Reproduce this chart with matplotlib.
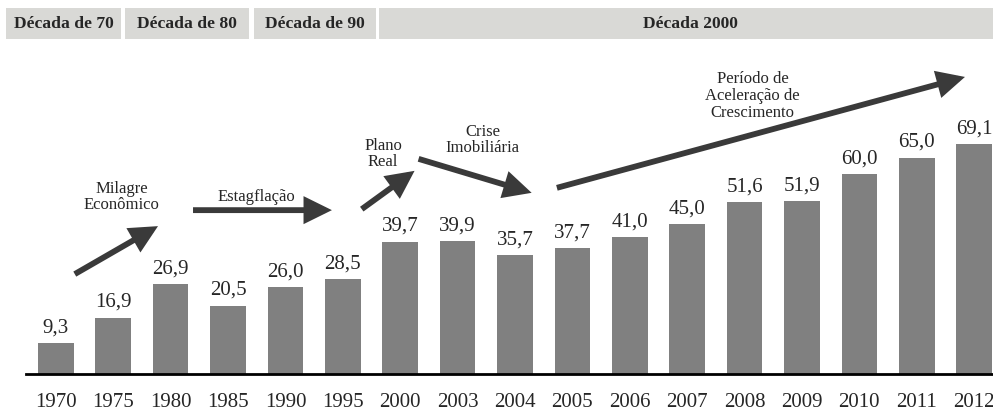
import matplotlib
matplotlib.use("Agg")
import matplotlib.pyplot as plt
from matplotlib.patches import Rectangle, FancyArrowPatch, ArrowStyle

SERIF = ['Liberation Serif', 'DejaVu Serif']
plt.rcParams['font.family'] = SERIF

# ---- data ----
years = ['1970', '1975', '1980', '1985', '1990', '1995', '2000', '2003', '2004',
         '2005', '2006', '2007', '2008', '2009', '2010', '2011', '2012']
values = [9.3, 16.9, 26.9, 20.5, 26.0, 28.5, 39.7, 39.9, 35.7,
          37.7, 41.0, 45.0, 51.6, 51.9, 60.0, 65.0, 69.1]
value_labels = ['9,3', '16,9', '26,9', '20,5', '26,0', '28,5', '39,7', '39,9', '35,7',
                '37,7', '41,0', '45,0', '51,6', '51,9', '60,0', '65,0', '69,1']
decades = ['Década de 70', 'Década de 80', 'Década de 90', 'Década 2000']
phases = ['Milagre\nEconômico', 'Estagflação', 'Plano\nReal',
          'Crise\nImobiliária', 'Período de\nAceleração de\nCrescimento']

# ---- layout ----
W, H = 993, 414
fig = plt.figure(figsize=(W / 100, H / 100), dpi=100)
ax_left, ax_right = 26, 1004
ax_bottom, ax_top = 375, 0
ax = fig.add_axes([ax_left / W, (H - ax_bottom) / H,
                   (ax_right - ax_left) / W, (ax_bottom - ax_top) / H])
ax.set_xlim(-0.52, 16.52)
ax.set_ylim(0, 112.6)

x = list(range(len(years)))
ax.bar(x, values, width=0.62, color='#808080', zorder=2)
for xi, v, lab in zip(x, values, value_labels):
    ax.annotate(lab, (xi, v), xytext=(0, 8.5), textcoords='offset points',
                ha='center', va='baseline', fontsize=15, color='#262626',
                family=SERIF)

ax.set_xticks(x)
ax.set_xticklabels(years, fontsize=15, color='#262626', family=SERIF)
ax.tick_params(axis='x', length=0, pad=13)
ax.set_yticks([])
for s in ['left', 'right', 'top']:
    ax.spines[s].set_visible(False)
ax.spines['bottom'].set_linewidth(2)
ax.spines['bottom'].set_color('black')

# ---- phase arrows & labels ----
arrow_specs = [((0.33, 30.0), (1.78, 44.4)),
               ((2.39, 49.2), (4.81, 49.2)),
               ((5.33, 49.5), (6.25, 61.0)),
               ((6.32, 64.6), (8.29, 54.4)),
               ((8.73, 55.9), (15.84, 89.2))]
text_pos = [(1.15, 53.5), (3.50, 53.5), (5.70, 66.4), (7.44, 70.6), (12.14, 83.8)]
style = ArrowStyle('-|>', head_length=0.85, head_width=0.42)
for (p0, p1) in arrow_specs:
    arr = FancyArrowPatch(p0, p1, arrowstyle=style, mutation_scale=16,
                          lw=4.2, color='#3a3a3a', shrinkA=0, shrinkB=0,
                          joinstyle='miter', capstyle='butt', zorder=3)
    ax.add_patch(arr)
for txt, (tx, ty) in zip(phases, text_pos):
    ax.text(tx, ty, txt, ha='center', va='center', fontsize=12,
            color='#262626', linespacing=1.05, family=SERIF)

# ---- decade header boxes ----
boxes = [(6, 121), (125, 249), (254, 376), (379, 993)]
for (x0, x1), lab in zip(boxes, decades):
    fig.add_artist(Rectangle((x0 / W, (H - 40) / H), (x1 - x0) / W, 31 / H,
                             transform=fig.transFigure, facecolor='#d9d9d6',
                             edgecolor='none'))
    cx = (x0 + x1) / 2 if x1 < 900 else 690
    fig.text(cx / W, (H - 24.5) / H, lab, ha='center', va='center',
             fontsize=12.6, fontweight='bold', color='#262626', family=SERIF)

fig.savefig('out.png', dpi=100)
